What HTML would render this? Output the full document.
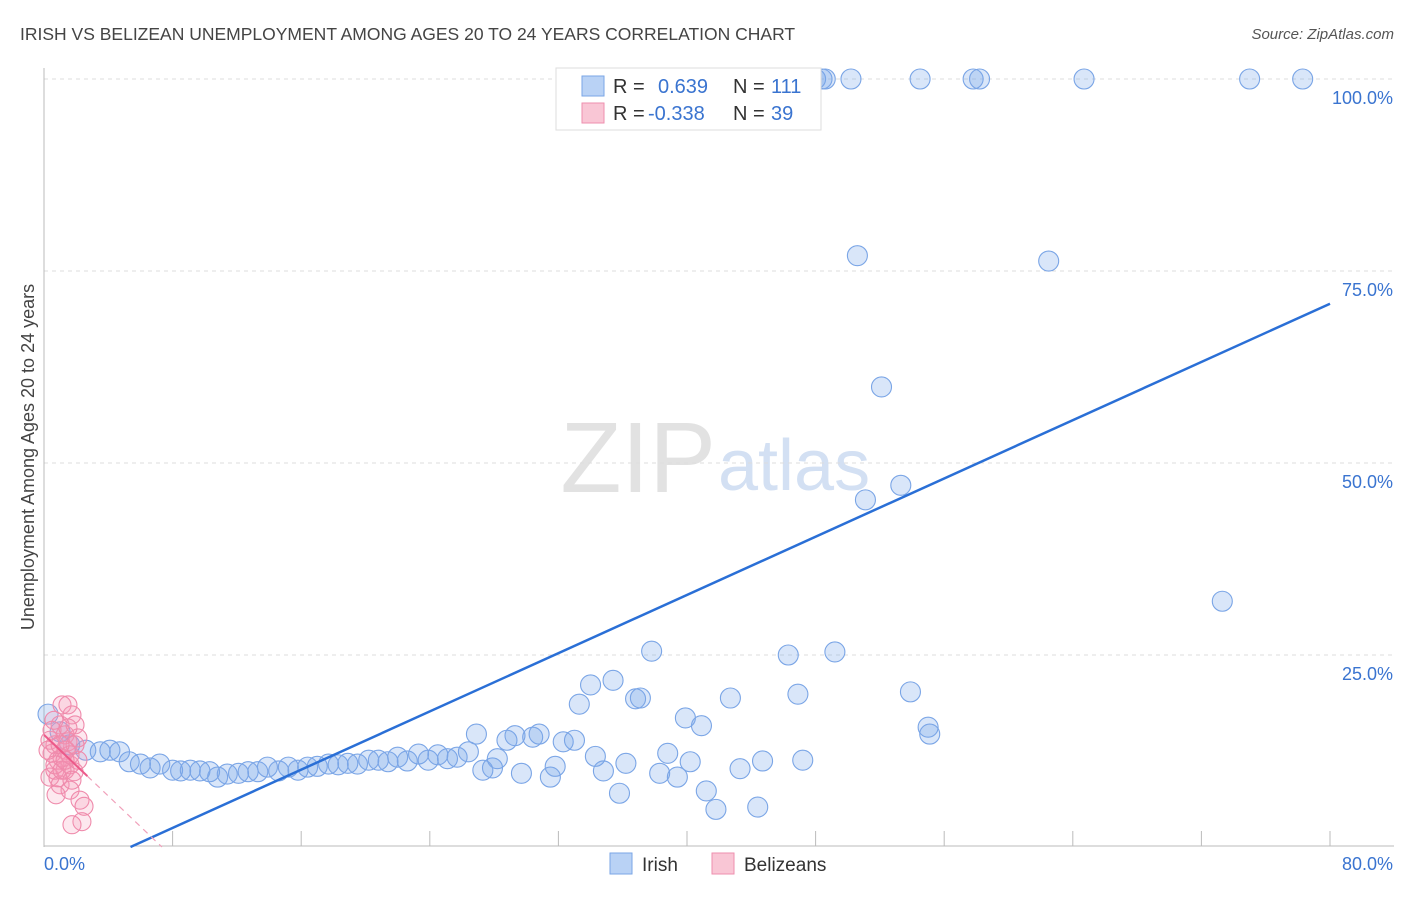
<!DOCTYPE html>
<html><head><meta charset="utf-8">
<style>
body{margin:0;background:#fff;font-family:"Liberation Sans",sans-serif;}
svg text{font-family:"Liberation Sans",sans-serif;}
</style></head>
<body>
<svg id="chart" width="1406" height="892">
<text x="20" y="40" font-size="17.5" fill="#444">IRISH VS BELIZEAN UNEMPLOYMENT AMONG AGES 20 TO 24 YEARS CORRELATION CHART</text>
<text x="1394" y="39" font-size="15" fill="#555" font-style="italic" text-anchor="end">Source: ZipAtlas.com</text>
<text x="716" y="492" font-size="100" fill="#e2e2e2" text-anchor="end" font-family="Liberation Serif">ZIP</text>
<text x="718" y="490" font-size="72" fill="#d3e0f3">atlas</text>
<text transform="translate(34,457) rotate(-90)" font-size="18" fill="#444" text-anchor="middle">Unemployment Among Ages 20 to 24 years</text>
<g id="grid"></g><g id="axes"></g><g id="pts"></g><g id="lines"></g>
<g>
<rect x="556" y="68" width="265" height="62" fill="#fff" stroke="#ddd"/>
<rect x="582" y="76" width="22" height="20" fill="#b9d2f5" stroke="#7aa6e6"/>
<rect x="582" y="103" width="22" height="20" fill="#f9c6d5" stroke="#ee8fae"/>
<text x="613" y="93" font-size="20" fill="#333">R = </text><text x="658" y="93" font-size="20" fill="#3a74d0">0.639</text>
<text x="733" y="93" font-size="20" fill="#333">N = </text><text x="771" y="93" font-size="20" fill="#3a74d0">111</text>
<text x="613" y="120" font-size="20" fill="#333">R = </text><text x="648" y="120" font-size="20" fill="#3a74d0">-0.338</text>
<text x="733" y="120" font-size="20" fill="#333">N = </text><text x="771" y="120" font-size="20" fill="#3a74d0">39</text>
</g>
<g>
<rect x="610" y="853" width="22" height="21" fill="#b9d2f5" stroke="#7aa6e6"/>
<text x="642" y="871" font-size="19" fill="#333">Irish</text>
<rect x="712" y="853" width="22" height="21" fill="#f9c6d5" stroke="#ee8fae"/>
<text x="744" y="871" font-size="19" fill="#333">Belizeans</text>
</g>
</svg>
<script>
const yTicks=[25,50,75,100];
const yTickLabels=["25.0%","50.0%","75.0%","100.0%"];
const xTickLabels=["0.0%","80.0%"];
const irishX=[0.25,1.0,1.6,2.6,3.5,4.1,4.7,5.3,6.0,6.6,7.2,8.0,8.5,9.1,9.7,10.3,10.8,11.4,12.1,12.7,13.3,13.9,14.6,15.2,15.8,16.4,17.0,17.7,18.3,18.9,19.5,20.2,20.8,21.4,22.0,22.6,23.3,23.9,24.5,25.1,25.7,26.4,26.9,27.3,27.9,28.2,28.8,29.3,29.7,30.4,30.8,31.5,31.8,32.3,33.0,33.3,34.0,34.3,34.8,35.4,35.8,36.2,36.8,37.1,37.8,38.3,38.8,39.4,39.9,40.2,40.9,41.2,41.8,42.7,43.3,44.4,44.7,46.3,46.9,47.2,49.2,51.1,50.6,52.1,53.3,53.9,55.0,55.1,62.5,73.3,48.0,48.4,48.6,50.2,54.5,57.8,58.2,64.7,75.0,78.3];
const irishY=[17.3,15.0,13.3,12.6,12.4,12.6,12.4,11.1,10.8,10.3,10.8,10.0,9.9,10.0,9.9,9.8,9.1,9.5,9.6,9.8,9.8,10.4,9.9,10.4,10.0,10.4,10.5,10.8,10.7,10.9,10.8,11.3,11.3,11.1,11.7,11.2,12.1,11.3,12.0,11.5,11.7,12.4,14.7,10.0,10.3,11.5,13.9,14.5,9.6,14.3,14.7,9.1,10.5,13.7,13.9,18.6,21.1,11.8,9.9,21.7,7.0,10.9,19.3,19.4,25.5,9.6,12.2,9.1,16.8,11.1,15.8,7.3,4.9,19.4,10.2,5.2,11.2,25.0,19.9,11.3,25.4,45.2,77.0,59.9,47.1,20.2,15.6,14.7,76.3,32.0,100,100,100,100,100,100,100,100,100,100];
const belizeX=[0.37,0.5,0.68,0.87,1.0,1.12,1.31,1.49,1.62,1.74,1.93,2.11,0.37,0.68,1.0,1.31,1.49,1.62,1.87,2.11,2.24,2.36,2.49,1.74,0.87,1.12,1.37,0.25,0.5,0.68,1.12,1.62,1.93,1.0,1.31,0.62,1.49,1.74,0.75];
const belizeY=[13.9,12.2,13.3,11.3,15.9,18.5,14.6,13.7,10.7,17.2,15.9,14.2,9.1,10.0,8.1,10.0,18.5,7.4,9.8,11.3,6.1,3.3,5.3,2.9,9.0,11.6,12.6,12.6,15.2,10.7,10.0,12.0,13.3,13.3,11.3,16.5,15.5,8.7,6.8];
const irishFit=[-5.1,0.948];
const belizeFit=[14.6,-1.99];
const NS="http://www.w3.org/2000/svg";
const X0=44,X1=1330,Y0=847,Y1=79;
const sx=v=>X0+(v/80)*(X1-X0);
const sy=v=>Y0-(v/100)*(Y0-Y1);
function mk(tag,attrs,parent){const e=document.createElementNS(NS,tag);for(const k in attrs)e.setAttribute(k,attrs[k]);document.getElementById(parent).appendChild(e);return e;}
yTicks.forEach((t,i)=>{
 const g=mk('line',{x1:X0,x2:1394,y1:sy(t),y2:sy(t),stroke:'#ddd','stroke-dasharray':'4,4'},'grid');
 
 
 const l=mk('text',{x:1393,y:sy(t)+25,'font-size':18,fill:'#3a74d0','text-anchor':'end'},'grid');
 l.textContent=yTickLabels[i];
 
 
});
const ax=mk('line',{x1:X0,x2:X0,y1:68,y2:Y0,stroke:'#bbb'},'axes');


const bx=mk('line',{x1:X0,x2:1394,y1:Y0-1,y2:Y0-1,stroke:'#bbb'},'axes');


for(let i=1;i<=10;i++){
 const t=mk('line',{x1:sx(i*8),x2:sx(i*8),y1:Y0-1,y2:Y0-16,stroke:'#bbb'},'axes');
 
 
}
const xl0=mk('text',{x:44,y:870,'font-size':18,fill:'#3a74d0'},'axes');xl0.textContent=xTickLabels[0];


const xl1=mk('text',{x:1393,y:870,'font-size':18,fill:'#3a74d0','text-anchor':'end'},'axes');xl1.textContent=xTickLabels[1];


irishX.forEach((x,i)=>{
 const c=mk('circle',{cx:sx(x),cy:sy(irishY[i]),r:10,fill:'rgba(120,165,235,0.28)',stroke:'#7aa5e6','stroke-width':1.1},'pts');
 
 
});
belizeX.forEach((x,i)=>{
 const c=mk('circle',{cx:sx(x),cy:sy(belizeY[i]),r:9,fill:'rgba(245,150,180,0.22)',stroke:'#ef8aab','stroke-width':1.1},'pts');
 
 
});
const ix0=-irishFit[0]/irishFit[1];
const il=mk('line',{x1:sx(ix0),y1:sy(0),x2:sx(80),y2:sy(irishFit[0]+irishFit[1]*80),stroke:'#2a6fd6','stroke-width':2.5},'lines');


const bs=mk('line',{x1:sx(0),y1:sy(belizeFit[0]),x2:sx(2.7),y2:sy(belizeFit[0]+belizeFit[1]*2.7),stroke:'#ec5a8a','stroke-width':2},'lines');


const bx0=-belizeFit[0]/belizeFit[1];
const bd=mk('line',{x1:sx(2.7),y1:sy(belizeFit[0]+belizeFit[1]*2.7),x2:sx(bx0),y2:sy(0),stroke:'#f0a0ba','stroke-width':1.2,'stroke-dasharray':'6,5'},'lines');


</script>
</body></html>
